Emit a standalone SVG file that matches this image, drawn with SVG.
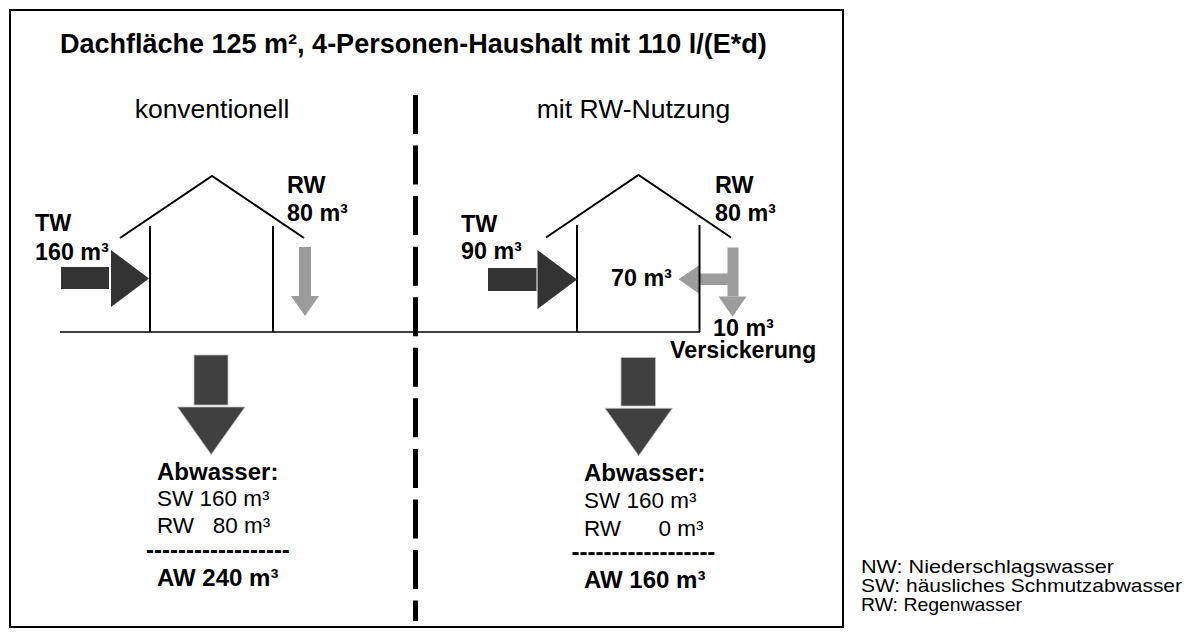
<svg xmlns="http://www.w3.org/2000/svg" width="1194" height="637" viewBox="0 0 1194 637">
  <style>
    text { font-family: "Liberation Sans", Arial, sans-serif; fill: #000; }
    .title { font-size: 27px; font-weight: bold; }
    .head { font-size: 26.5px; }
    .lbl { font-size: 23.3px; font-weight: bold; }
    .bb { font-size: 24px; font-weight: bold; }
    .br { font-size: 22.5px; }
    .leg { font-size: 18.5px; }
    .wall { stroke: #000; stroke-width: 2; fill: none; }
    .dark { fill: #333333; }
    .down { fill: #404040; stroke: #bdbdbd; stroke-width: 0.8; }
    .gray { fill: #9c9c9c; }
  </style>
  <rect width="1194" height="637" fill="#fff"/>
  <rect x="10" y="10" width="833" height="617" fill="none" stroke="#000" stroke-width="2"/>

  <g id="title">
    <text class="title" x="60" y="53">Dachfläche 125 m², 4-Personen-Haushalt mit 110 l/(E*d)</text>
    <text class="head" x="212" y="118" text-anchor="middle">konventionell</text>
    <text class="head" x="633.5" y="118" text-anchor="middle">mit RW-Nutzung</text>
  </g>

  <g id="divider">
    <line x1="415.5" y1="95" x2="415.5" y2="621" stroke="#000" stroke-width="5" stroke-dasharray="39 11.56"/>
  </g>

  <g id="ground">
    <line x1="60" y1="332" x2="700" y2="332" stroke="#000" stroke-width="1.5"/>
  </g>

  <g id="house-conventional">
    <polyline class="wall" points="120,238 212,176 304,238"/>
    <line class="wall" x1="150" y1="226" x2="150" y2="332"/>
    <line class="wall" x1="273" y1="226" x2="273" y2="332"/>
  </g>

  <g id="house-rw">
    <polyline class="wall" points="546,237.5 638.5,175 731,237.5"/>
    <line class="wall" x1="577" y1="225" x2="577" y2="332"/>
  </g>

  <g id="connectors">
    <g id="tw-in-left">
      <rect class="dark" x="61" y="267" width="48" height="22"/>
      <polygon class="dark" points="111,250 149,278.5 111,307"/>
    </g>
    <g id="rw-left">
      <rect class="gray" x="299" y="247" width="12" height="49"/>
      <polygon class="gray" points="291,296 319,296 305,316"/>
    </g>
    <g id="aw-left">
      <rect class="down" x="194" y="355" width="34" height="50"/>
      <polygon class="down" points="177.5,407 245,407 211.2,454.5"/>
    </g>
    <g id="tw-in-right">
      <rect class="dark" x="488" y="268" width="48.5" height="23"/>
      <polygon class="dark" points="537.5,250 577,279.5 537.5,309"/>
    </g>
    <g id="rw-right">
      <rect class="gray" x="727.5" y="247.5" width="11" height="49"/>
      <rect class="gray" x="698" y="273.5" width="35" height="11.5"/>
      <polygon class="gray" points="699.5,265 678.5,279.3 699.5,294"/>
      <polygon class="gray" points="718.5,296.5 746.5,296.5 732.5,316.7"/>
    </g>
    <g id="aw-right">
      <rect class="down" x="621" y="357.5" width="34.5" height="48.5"/>
      <polygon class="down" points="605,408.3 672.3,408.3 638.7,455.7"/>
    </g>
  </g>

  <g id="house-rw-wall">
    <line class="wall" x1="699.5" y1="225" x2="699.5" y2="332"/>
  </g>

  <g id="labels-left">
    <text class="lbl" x="35" y="231">TW</text>
    <text class="lbl" x="35" y="260">160 m³</text>
    <text class="lbl" x="287" y="193">RW</text>
    <text class="lbl" x="287" y="221">80 m³</text>
  </g>

  <g id="labels-right">
    <text class="lbl" x="461" y="232">TW</text>
    <text class="lbl" x="461" y="259">90 m³</text>
    <text class="lbl" x="715" y="193">RW</text>
    <text class="lbl" x="715" y="221">80 m³</text>
    <text class="lbl" x="611" y="286">70 m³</text>
    <text class="lbl" x="713" y="335.5">10 m³</text>
    <text class="lbl" x="670" y="358">Versickerung</text>
  </g>

  <g id="result-left">
    <text class="bb" x="157" y="480">Abwasser:</text>
    <text class="br" x="157" y="506">SW 160 m³</text>
    <text class="br" x="157" y="533" xml:space="preserve">RW   80 m³</text>
    <text class="bb" x="146" y="558">------------------</text>
    <text class="bb" x="157" y="585.5">AW 240 m³</text>
  </g>

  <g id="result-right">
    <text class="bb" x="584" y="481">Abwasser:</text>
    <text class="br" x="584" y="508">SW 160 m³</text>
    <text class="br" x="584" y="535.5" xml:space="preserve">RW      0 m³</text>
    <text class="bb" x="571.5" y="560">------------------</text>
    <text class="bb" x="584" y="588">AW 160 m³</text>
  </g>

  <g id="legend">
    <text class="leg" x="861" y="573" textLength="253" lengthAdjust="spacingAndGlyphs">NW: Niederschlagswasser</text>
    <text class="leg" x="861" y="592" textLength="321" lengthAdjust="spacingAndGlyphs">SW: häusliches Schmutzabwasser</text>
    <text class="leg" x="861" y="611" textLength="161" lengthAdjust="spacingAndGlyphs">RW: Regenwasser</text>
  </g>
</svg>
